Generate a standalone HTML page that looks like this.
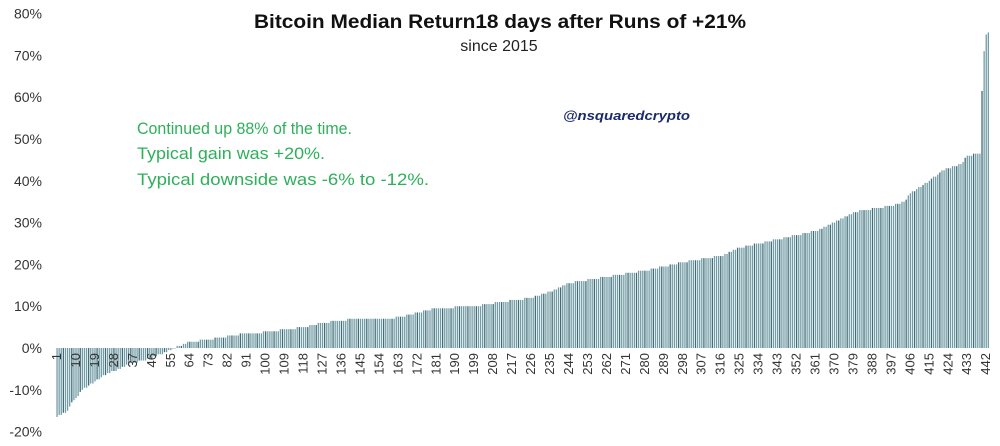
<!DOCTYPE html>
<html><head><meta charset="utf-8"><style>
html,body{margin:0;padding:0;background:#fff;width:1000px;height:446px;overflow:hidden}
svg{display:block}
</style></head><body>
<svg id="c" width="1000" height="446" xmlns="http://www.w3.org/2000/svg" font-family="Liberation Sans, sans-serif">
<text x="500" y="28" text-anchor="middle" font-size="19" font-weight="bold" fill="#111" textLength="492" lengthAdjust="spacingAndGlyphs">Bitcoin Median Return18 days after Runs of +21%</text>
<text x="499" y="51" text-anchor="middle" font-size="16" fill="#222">since 2015</text>
<text x="563" y="120" font-size="13" font-weight="bold" font-style="italic" fill="#1c2a6e" textLength="127" lengthAdjust="spacingAndGlyphs">@nsquaredcrypto</text>
<g fill="#2eb05a" font-size="17">
<text x="137" y="134" textLength="215" lengthAdjust="spacingAndGlyphs">Continued up 88% of the time.</text>
<text x="137" y="159" textLength="188" lengthAdjust="spacingAndGlyphs">Typical gain was +20%.</text>
<text x="137" y="185" textLength="292" lengthAdjust="spacingAndGlyphs">Typical downside was -6% to -12%.</text>
</g>
<g id="yl" font-size="14" fill="#333" text-anchor="end"></g>
<g id="bars"></g>
<g id="xl" font-size="13" fill="#333"></g>
</svg>
<script>
var NS="http://www.w3.org/2000/svg";
function el(t,a,p,txt){var e=document.createElementNS(NS,t);for(var k in a)e.setAttribute(k,a[k]);if(txt!=null)e.textContent=txt;p.appendChild(e);return e;}
var y0=348,ppv=4.18;
var yl=document.getElementById('yl');
for(var v=-20;v<=80;v+=10){el('text',{x:42,y:y0-v*ppv+5},yl,v+'%');}
var pts=[[1,-16.5],[3,-16],[6,-15],[8,-13],[10,-12],[13,-10],[16,-9],[19,-8],[22,-7],[28,-5.5],[37,-3.5],[46,-2.5],[50,-1.5],[55,-0.3],[58,0.3],[64,1.5],[73,2],[82,2.8],[91,3.5],[100,3.8],[118,5],[127,6],[136,6.7],[154,7],[163,7.3],[172,8.5],[181,9.5],[199,10],[208,10.7],[226,12],[235,13.5],[244,15.5],[262,17],[280,18.5],[298,20.5],[316,22],[325,24],[343,26],[361,28],[370,30],[379,32.5],[397,34],[403,35],[406,37],[415,40],[420,42],[424,43],[430,44],[433,46],[439,46.5],[440,61.5],[441,71],[442,75],[443,75.6]];
function val(i){for(var k=0;k<pts.length-1;k++){var a=pts[k],b=pts[k+1];if(i>=a[0]&&i<=b[0]){return a[1]+(b[1]-a[1])*(i-a[0])/(b[0]-a[0]);}}return 75.6;}
var bars=document.getElementById('bars');
var x1=57,pitch=2.107;
for(var i=1;i<=443;i++){var v=Math.round(val(i)*2)/2;var x=x1+(i-1)*pitch;var h=v*ppv;
var y=h>=0?y0-h:y0;el('rect',{x:(x-0.6).toFixed(2),y:y.toFixed(2),width:1.3,height:Math.max(Math.abs(h),0.5).toFixed(2),fill:(i%4==0?'#3f6d78':'#729ca5')},bars);}
var xl=document.getElementById('xl');
for(var i=1;i<=442;i+=9){var x=x1+(i-1)*pitch+4;el('text',{x:0,y:0,transform:'translate('+x.toFixed(1)+',353) rotate(-90)','text-anchor':'end'},xl,String(i));}
</script>
</body></html>
